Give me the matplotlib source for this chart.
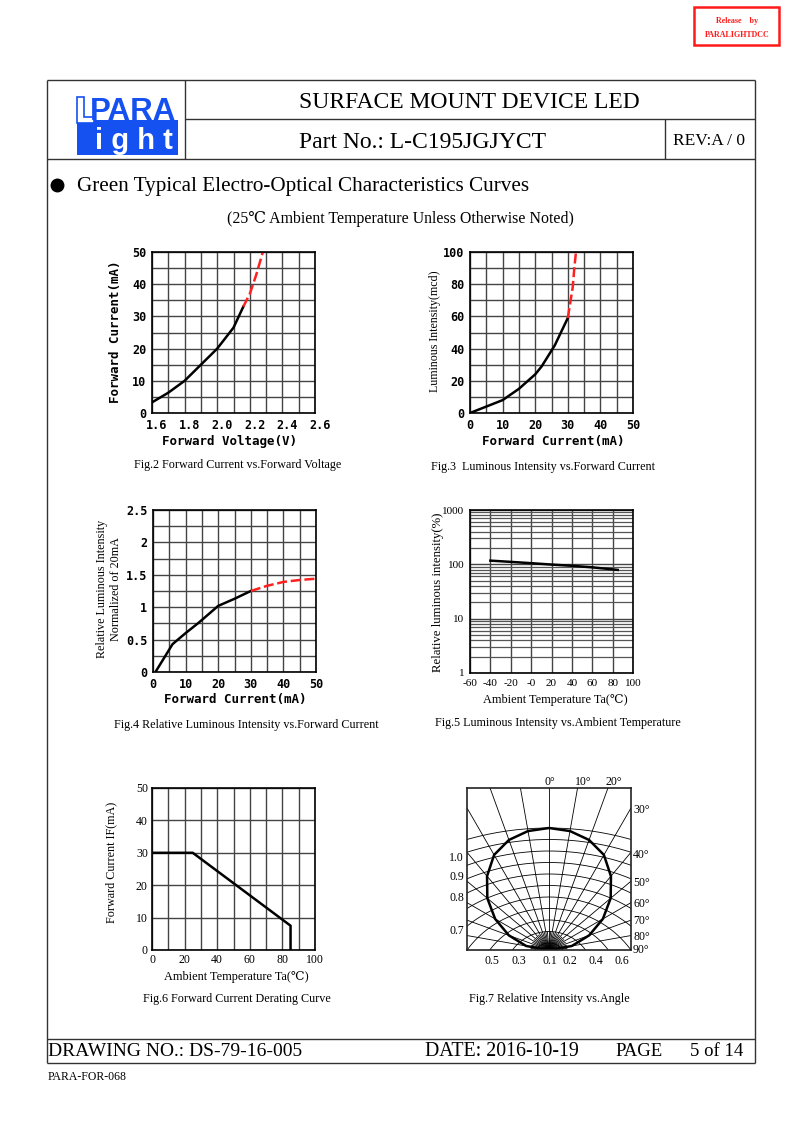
import matplotlib.pyplot as plt
import matplotlib.transforms as mtransforms
import numpy as np
from matplotlib.patches import Rectangle, Polygon

W, H = 793, 1123
SERIF = ['Liberation Serif', 'DejaVu Serif']
MONO = ['DejaVu Sans Mono']
BLUE = '#1550f0'
GRID = '#444444'

# Fig.2 forward current vs forward voltage
vf_black = [1.6, 1.7, 1.8, 1.9, 2.0, 2.1, 2.16]
if_black = [3.3, 6.3, 10, 15, 20, 26.5, 33]
vf_red = [2.16, 2.2, 2.24, 2.28]
if_red = [33, 37, 43, 50]

# Fig.3 luminous intensity vs forward current
if3_black = [0, 5, 10, 15, 20, 22, 26, 30]
iv3_black = [0, 4, 8, 15, 24, 29, 42, 59]
if3_red = [30, 31.5, 32, 32.5]
iv3_red = [59, 78, 90, 100]

# Fig.4 relative intensity vs forward current
if4_black = [1, 6, 10, 14, 20, 25, 30]
rel4_black = [0.02, 0.43, 0.6, 0.76, 1.02, 1.13, 1.25]
if4_red = [30, 35, 40, 45, 50]
rel4_red = [1.25, 1.33, 1.39, 1.42, 1.44]

# Fig.5 relative intensity vs ambient temperature
ta5 = [-40, -20, 0, 20, 40, 60, 85]
rel5 = [117, 111, 105, 99, 94, 88, 79]
ta5_ticks = [-60, -40, -20, 0, 20, 40, 60, 80, 100]
ta5_labels = ['-60', '-40', '-20', '-0', '20', '40', '60', '80', '100']

# Fig.6 derating curve
ta6 = [0, 25, 85, 85]
if6 = [30, 30, 7.5, 0]

# Fig.7 radiation pattern
ang7 = [0, 10, 20, 30, 40, 50, 60, 70, 80, 90]
rel7 = [1.0, 0.99, 0.96, 0.90, 0.79, 0.66, 0.51, 0.35, 0.19, 0.0]

fig = plt.figure(figsize=(W / 100, H / 100), dpi=100)
bg = fig.add_axes([0, 0, 1, 1])
bg.set_xlim(0, W)
bg.set_ylim(H, 0)
bg.axis('off')


def line(x0, y0, x1, y1, lw=1.0, c='#333333'):
    bg.plot([x0, x1], [y0, y1], color=c, lw=lw, solid_capstyle='butt')


def txt(x, y, s, size, ha='center', va='center', fam=SERIF, **kw):
    bg.text(x, y, s, fontsize=size, ha=ha, va=va, family=fam, **kw)


def ax_at(x0, y0, x1, y1):
    return fig.add_axes([x0 / W, 1 - y1 / H, (x1 - x0) / W, (y1 - y0) / H])


def style(ax, fam, size, bold=False):
    for s in ax.spines.values():
        s.set_color('black')
        s.set_linewidth(1.2)
    ax.tick_params(which='both', length=0, pad=4, labelsize=size)
    for lab in ax.get_xticklabels() + ax.get_yticklabels():
        lab.set_family(fam)
        if bold:
            lab.set_fontweight('bold')
    ax.grid(True, which='both', color=GRID, lw=1.0)
    ax.set_axisbelow(True)


# release stamp
bg.add_patch(Rectangle((694, 7), 85, 38, fill=False, ec='#ff1a1a', lw=1.8))
txt(737, 21, 'Release    by', 5.8, color='#ff1a1a', fontweight='bold')
txt(737, 35, 'PARALIGHTDCC', 5.8, color='#ff1a1a', fontweight='bold')

# page frame
line(47, 80, 755, 80)
line(47, 80, 47, 1063)
line(755, 80, 755, 1063)
line(185, 119, 755, 119)
line(47, 159, 755, 159)
line(185, 80, 185, 159)
line(665, 119, 665, 159)
line(47, 1039, 755, 1039)
line(47, 1063, 755, 1063)

# logo
bg.add_patch(Rectangle((77, 120), 101, 35, fc=BLUE, ec='none'))
bg.add_patch(Polygon([(77, 97), (84, 97), (84, 117), (94, 117), (94, 123), (77, 123)],
                     closed=True, fc='white', ec=BLUE, lw=1.2))
bg.text(133, 120, 'PARA', fontsize=22.5, ha='center', va='baseline', color=BLUE,
        family='Liberation Sans', fontweight='bold')
bg.text(134, 149, 'i g h t', fontsize=21, ha='center', va='baseline', color='white',
        family='Liberation Sans', fontweight='bold')

# header texts
txt(469, 102, 'SURFACE MOUNT DEVICE LED', 17)
txt(423, 142, 'Part No.: L-C195JGJYCT', 17)
txt(709, 141, 'REV:A / 0', 12.5)

bg.plot([57], [185], 'o', color='black', ms=9)
txt(77, 186, 'Green Typical Electro-Optical Characteristics Curves', 15.2, ha='left')
txt(400, 219, '(25\u2103 Ambient Temperature Unless Otherwise Noted)', 11.4)

# Fig.2
ax = ax_at(152, 252, 315, 413)
ax.set_xlim(1.6, 2.6)
ax.set_ylim(0, 50)
ax.set_xticks(np.arange(1.6, 2.61, 0.2))
ax.set_xticklabels(['1.6', '1.8', '2.0', '2.2', '2.4', '2.6'])
ax.set_xticks(np.arange(1.6, 2.61, 0.1), minor=True)
ax.set_yticks(range(0, 51, 10))
ax.set_yticks(range(0, 51, 5), minor=True)
style(ax, MONO, 8.5, bold=True)
shift = mtransforms.ScaledTranslation(5 / 100, 0, fig.dpi_scale_trans)
for lab in ax.get_xticklabels():
    lab.set_transform(lab.get_transform() + shift)
ax.plot(vf_black, if_black, color='black', lw=1.8)
ax.plot(vf_red, if_red, color='#ff2020', lw=1.8, ls=(0, (4, 1.5)))
txt(116, 332, 'Forward Current(mA)', 9, fam=MONO, rotation=90, fontweight='bold')
txt(230, 441, 'Forward Voltage(V)', 9, fam=MONO, fontweight='bold')
txt(238, 465, 'Fig.2 Forward Current vs.Forward Voltage', 8.7)

# Fig.3
ax = ax_at(470, 252, 633, 413)
ax.set_xlim(0, 50)
ax.set_ylim(0, 100)
ax.set_xticks(range(0, 51, 10))
ax.set_xticks(range(0, 51, 5), minor=True)
ax.set_yticks(range(0, 101, 20))
ax.set_yticks(range(0, 101, 10), minor=True)
style(ax, MONO, 8.5, bold=True)
ax.plot(if3_black, iv3_black, color='black', lw=1.8)
ax.plot(if3_red, iv3_red, color='#ff2020', lw=1.8, ls=(0, (4, 1.5)))
txt(435, 331, 'Luminous Intensity(mcd)', 8.6, rotation=90)
txt(553, 441, 'Forward Current(mA)', 9, fam=MONO, fontweight='bold')
txt(543, 467, 'Fig.3  Luminous Intensity vs.Forward Current', 8.7)

# Fig.4
ax = ax_at(153, 510, 316, 672)
ax.set_xlim(0, 50)
ax.set_ylim(0, 2.5)
ax.set_xticks(range(0, 51, 10))
ax.set_xticks(range(0, 51, 5), minor=True)
ax.set_yticks([0, 0.5, 1, 1.5, 2, 2.5])
ax.set_yticklabels(['0', '0.5', '1', '1.5', '2', '2.5'])
ax.set_yticks(np.arange(0, 2.51, 0.25), minor=True)
style(ax, MONO, 8.5, bold=True)
ax.plot(if4_black, rel4_black, color='black', lw=1.8)
ax.plot(if4_red, rel4_red, color='#ff2020', lw=1.8, ls=(0, (4, 1.5)))
txt(102, 589, 'Relative Luminous Intensity', 8.7, rotation=90)
txt(116, 589, 'Normalized of 20mA', 8.7, rotation=90)
txt(235, 700, 'Forward Current(mA)', 9, fam=MONO, fontweight='bold')
txt(246, 725, 'Fig.4 Relative Luminous Intensity vs.Forward Current', 8.7)

# Fig.5
ax = ax_at(470, 510, 633, 673)
ax.set_yscale('log')
ax.set_xlim(-60, 100)
ax.set_ylim(1, 1000)
ax.set_xticks(ta5_ticks)
ax.set_xticklabels(ta5_labels)
ax.set_yticks([1, 10, 100, 1000])
ax.set_yticklabels(['1', '10', '100', '1000'])
ax.yaxis.set_minor_formatter(plt.NullFormatter())
style(ax, SERIF, 8)
ax.tick_params(axis='x', pad=4)
ax.grid(True, which='minor', axis='y', color='#555555', lw=0.9)
ax.grid(True, which='minor', axis='x')
ax.plot(ta5, rel5, color='black', lw=1.8)
txt(438, 592, 'Relative luminous intensity(%)', 9.2, rotation=90)
txt(555, 700, 'Ambient Temperature Ta(\u2103)', 8.8)
txt(558, 723, 'Fig.5 Luminous Intensity vs.Ambient Temperature', 8.7)

# Fig.6
ax = ax_at(152, 788, 315, 950)
ax.set_xlim(0, 100)
ax.set_ylim(0, 50)
ax.set_xticks(range(0, 101, 20))
ax.set_xticks(range(0, 101, 10), minor=True)
ax.set_yticks(range(0, 51, 10))
style(ax, SERIF, 8.5)
ax.tick_params(pad=3)
ax.plot(ta6, if6, color='black', lw=1.8)
txt(111, 862, 'Forward Current IF(mA)', 8.7, rotation=90)
txt(236, 977, 'Ambient Temperature Ta(\u2103)', 8.8)
txt(237, 999, 'Fig.6 Forward Current Derating Curve', 8.7)

# Fig.7 radiation diagram
ax = ax_at(467, 788, 631, 950)
ax.set_xlim(-82, 82)
ax.set_ylim(0, 162)
ax.set_xticks([])
ax.set_yticks([])
for s in ax.spines.values():
    s.set_color('#222222')
    s.set_linewidth(1.2)
for a in range(-90, 91, 10):
    t = np.radians(a)
    ax.plot([0, 400 * np.sin(t)], [0, 400 * np.cos(t)], color='black', lw=0.6)
for a in range(-85, 86, 10):
    t = np.radians(a)
    ax.plot([0, 18 * np.sin(t)], [0, 18 * np.cos(t)], color='black', lw=0.6)
for h in 7 + 11.5 * np.arange(11):
    R, c = 2.45 * h, 1.45 * h
    tt = np.linspace(-np.pi / 2, np.pi / 2, 300)
    xs, ys = R * np.sin(tt), R * np.cos(tt) - c
    keep = ys >= 0
    ax.plot(xs[keep], ys[keep], color='black', lw=0.6)
full_ang = np.radians([-a for a in ang7[::-1]] + ang7[1:])
full_rel = np.array(rel7[::-1] + rel7[1:]) * 122
ax.plot(full_rel * np.sin(full_ang), full_rel * np.cos(full_ang), color='black', lw=1.8)

for s, x in zip(['0\u00b0', '10\u00b0', '20\u00b0'], [550, 583, 614]):
    txt(x, 782, s, 8.5)
for s, y in zip(['30\u00b0', '40\u00b0', '50\u00b0', '60\u00b0', '70\u00b0', '80\u00b0', '90\u00b0'],
                [810, 855, 883, 904, 921, 937, 950]):
    txt(633, y, s, 8.5, ha='left')
for s, y in zip(['1.0', '0.9', '0.8', '0.7'], [858, 877, 898, 931]):
    txt(464, y, s, 8.5, ha='right')
for s, x in zip(['0.5', '0.3', '0.1', '0.2', '0.4', '0.6'], [492, 519, 550, 570, 596, 622]):
    txt(x, 961, s, 8.5)
txt(549, 999, 'Fig.7 Relative Intensity vs.Angle', 8.7)

# footer
txt(48, 1051, 'DRAWING NO.: DS-79-16-005', 14, ha='left')
txt(425, 1051, 'DATE: 2016-10-19', 14.3, ha='left')
txt(615, 1051, 'PAGE', 13.5, ha='left')
txt(690, 1051, '5 of 14', 13.5, ha='left')
txt(48, 1077, 'PARA-FOR-068', 8.5, ha='left')

fig.savefig('out.png', dpi=100)
